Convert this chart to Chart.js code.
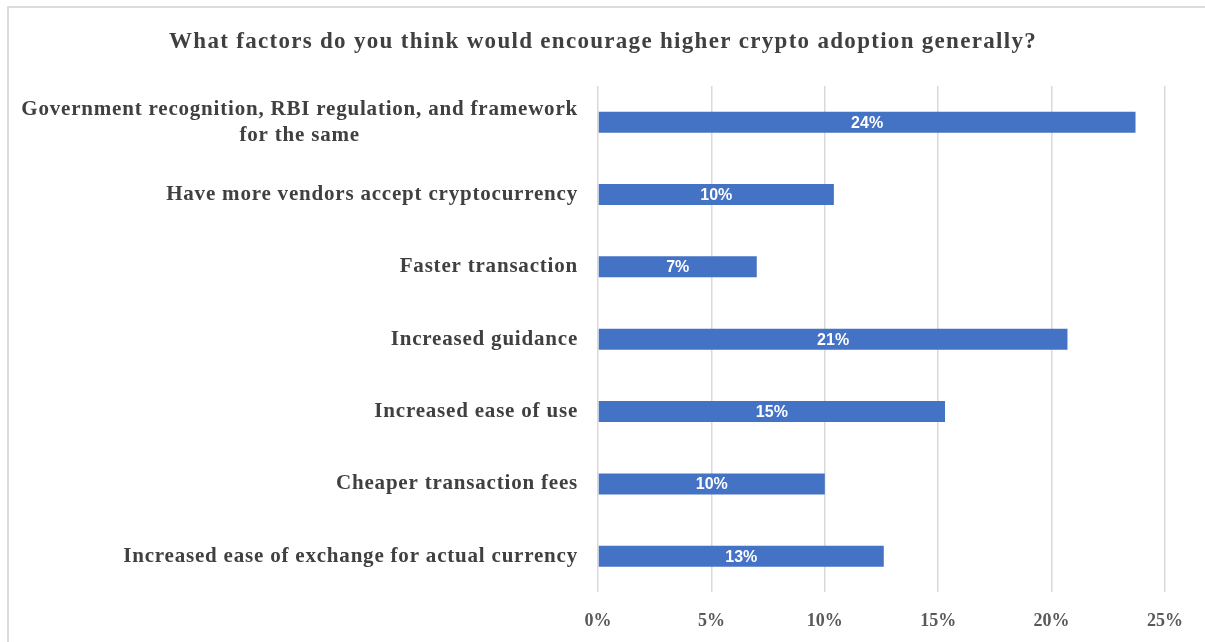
<!DOCTYPE html>
<html>
<head>
<meta charset="utf-8">
<script src="https://cdn.jsdelivr.net/npm/chart.js"></script>
<style>
  html, body { margin: 0; padding: 0; background: #fff; overflow: hidden; }
  #wrap { position: relative; width: 1205px; height: 642px; }
  #frame {
    position: absolute; left: 7px; top: 6px; width: 1300px; height: 800px;
    border: 2px solid #dcdcdc; box-sizing: border-box;
  }
  canvas { position: absolute; left: 0; top: 0; }
</style>
</head>
<body>
<div id="wrap">
  <div id="frame"></div>
  <canvas id="factorsChart" width="1205" height="642"></canvas>
</div>
<script>
const title = "What factors do you think would encourage higher crypto adoption generally?";
const categories = [
  ["Government recognition, RBI regulation, and framework", "for the same"],
  "Have more vendors accept cryptocurrency",
  "Faster transaction",
  "Increased guidance",
  "Increased ease of use",
  "Cheaper transaction fees",
  "Increased ease of exchange for actual currency",
];
const shares = [23.7, 10.4, 7.0, 20.7, 15.3, 10.0, 12.6]; // % of respondents
const xTicks = [0, 5, 10, 15, 20, 25];

const serif = '"Liberation Serif", "Times New Roman", serif';
const textColor = "#404040";

// title sits over the whole canvas, not just the plot area
const headline = {
  id: "headline",
  afterDraw: (chart) => {
    const { ctx } = chart;
    ctx.save();
    ctx.font = "bold 23px " + serif;
    ctx.letterSpacing = "1.3px";
    ctx.fillStyle = textColor;
    ctx.textAlign = "center";
    ctx.textBaseline = "middle";
    ctx.fillText(title, 603, 42);
    ctx.restore();
  },
};

// y axis is hidden; category names are drawn here so the wrapped one stays centred
const categoryLabels = {
  id: "categoryLabels",
  afterDraw: (chart) => {
    const { ctx, chartArea } = chart;
    const yScale = chart.scales.y;
    const right = chartArea.left - 20;
    const lineHeight = 26;
    ctx.save();
    ctx.font = "bold 21px " + serif;
    ctx.letterSpacing = "0.8px";
    ctx.fillStyle = textColor;
    ctx.textAlign = "center";
    ctx.textBaseline = "middle";
    categories.forEach((label, i) => {
      const lines = Array.isArray(label) ? label : [label];
      const w = Math.max(...lines.map((l) => ctx.measureText(l).width));
      const cy = yScale.getPixelForValue(i);
      lines.forEach((line, j) => {
        const ly = cy + (j - (lines.length - 1) / 2) * lineHeight;
        ctx.fillText(line, right - w / 2, ly);
      });
    });
    ctx.restore();
  },
};

// white value labels in the middle of each bar
const barValues = {
  id: "barValues",
  afterDatasetsDraw: (chart) => {
    const { ctx } = chart;
    const meta = chart.getDatasetMeta(0);
    ctx.save();
    ctx.font = 'bold 16px "Liberation Sans", Arial, sans-serif';
    ctx.fillStyle = "#fff";
    ctx.textAlign = "center";
    ctx.textBaseline = "middle";
    meta.data.forEach((bar, i) => {
      ctx.fillText(Math.round(shares[i]) + "%", (bar.x + bar.base) / 2, bar.y + 1);
    });
    ctx.restore();
  },
};

new Chart(document.getElementById("factorsChart"), {
  type: "bar",
  data: {
    labels: categories,
    datasets: [
      {
        data: shares,
        backgroundColor: "#4472C4",
        borderWidth: 0,
        categoryPercentage: 1,
        barPercentage: 0.29,
      },
    ],
  },
  options: {
    indexAxis: "y",
    responsive: false,
    animation: false,
    layout: {
      padding: { left: 598, right: 40, top: 86, bottom: -8 },
    },
    plugins: {
      legend: { display: false },
      tooltip: { enabled: false },
      title: { display: false },
    },
    scales: {
      x: {
        min: 0,
        max: 25,
        afterBuildTicks: (scale) => {
          scale.ticks = xTicks.map((v) => ({ value: v }));
        },
        ticks: {
          callback: (v) => v + "%",
          color: "#595959",
          padding: 18,
          maxRotation: 0,
          font: { family: serif, size: 18, weight: "bold" },
        },
        grid: { color: "#d9d9d9", lineWidth: 1.5, drawTicks: false },
        border: { display: false },
      },
      y: {
        display: false,
      },
    },
  },
  plugins: [headline, categoryLabels, barValues],
});
</script>
</body>
</html>
